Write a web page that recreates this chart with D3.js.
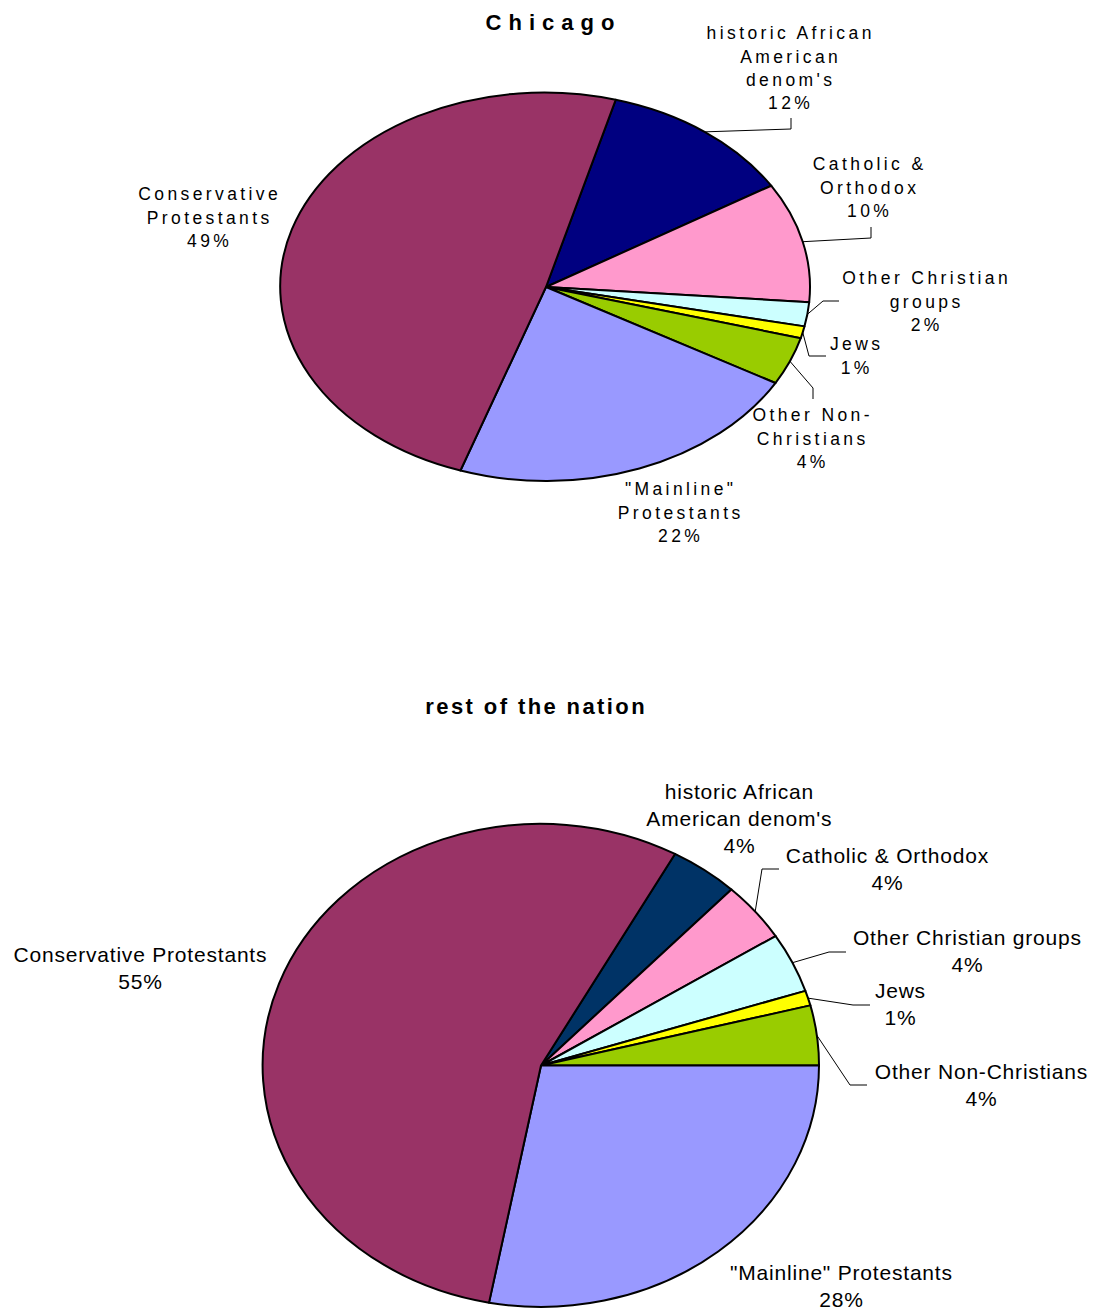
<!DOCTYPE html>
<html>
<head>
<meta charset="utf-8">
<script src="https://cdn.jsdelivr.net/npm/d3@7"></script>
<style>
    body { margin: 0; background: #fff; }
    text { font-family: Arial, "Liberation Sans", sans-serif; fill: #000; }
</style>
</head>
<body>
<svg id="chart" width="1099" height="1311"></svg>
<script>
// data, in slice order (clockwise from the first slice)
var categories = ['historic African American denom\'s', 'Catholic & Orthodox', 'Other Christian groups',
    'Jews', 'Other Non-Christians', '"Mainline" Protestants', 'Conservative Protestants'];
var chicagoValues = [12, 10, 2, 1, 4, 22, 49];
var nationValues = [4, 4, 4, 1, 4, 28, 55];
var chicagoColors = ['#000080', '#ff99cc', '#ccffff', '#ffff00', '#99cc00', '#9999ff', '#993366'];
var nationColors = ['#003366', '#ff99cc', '#ccffff', '#ffff00', '#99cc00', '#9999ff', '#993366'];

// label layout (wrapping and placement), one entry per category
var chicagoLabels = [
    {x: 789, y: 33, lines: ['historic African', 'American', 'denom\'s'], elbow: [791, 129], end: [791, 118]},
    {x: 868, y: 164, lines: ['Catholic &', 'Orthodox'], elbow: [871, 238], end: [871, 227]},
    {x: 925, y: 278, lines: ['Other Christian', 'groups'], elbow: [823, 301], end: [839, 301]},
    {x: 855, y: 344, lines: ['Jews'], elbow: [809, 356], end: [826, 356]},
    {x: 811, y: 415, lines: ['Other Non-', 'Christians'], elbow: [813, 388], end: [813, 399]},
    {x: 679, y: 489, lines: ['"Mainline"', 'Protestants']},
    {x: 208, y: 194, lines: ['Conservative', 'Protestants']}
];
var nationLabels = [
    {x: 739, y: 791, lines: ['historic African', 'American denom\'s']},
    {x: 887, y: 855, lines: ['Catholic & Orthodox'], elbow: [762, 869], end: [779, 869]},
    {x: 967, y: 937, lines: ['Other Christian groups'], elbow: [829, 952], end: [846, 952]},
    {x: 900, y: 990, lines: ['Jews'], elbow: [853, 1005], end: [870, 1005]},
    {x: 981, y: 1071, lines: ['Other Non-Christians'], elbow: [850, 1085], end: [867, 1085]},
    {x: 841, y: 1272, lines: ['"Mainline" Protestants']},
    {x: 140, y: 954, lines: ['Conservative Protestants']}
];

var svg = d3.select('#chart');

function drawPie(opts) {
    var g = svg.append('g').attr('transform', 'translate(' + opts.cx + ',' + opts.cy + ')');

    var pie = d3.pie().sort(null)
        .startAngle(opts.start * Math.PI / 180)
        .endAngle(opts.start * Math.PI / 180 + 2 * Math.PI);
    var arcs = pie(opts.values);

    // unit circle stretched into the ellipse
    var arc = d3.arc().innerRadius(0).outerRadius(1);
    g.append('g').attr('transform', 'scale(' + opts.rx + ',' + opts.ry + ')')
        .selectAll('path').data(arcs).enter().append('path')
        .attr('d', arc)
        .attr('fill', function(d, i) { return opts.colors[i]; })
        .attr('stroke', '#000')
        .attr('stroke-width', 2)
        .attr('stroke-linejoin', 'round')
        .attr('vector-effect', 'non-scaling-stroke');

    // leader lines, from the middle of each slice's edge
    arcs.forEach(function(d, i) {
        var lab = opts.labels[i];
        if (!lab.elbow) return;
        var a = (d.startAngle + d.endAngle) / 2;
        var p0 = [opts.cx + opts.rx * Math.sin(a), opts.cy - opts.ry * Math.cos(a)];
        svg.append('polyline')
            .attr('points', [p0, lab.elbow, lab.end].map(function(p) { return p.join(','); }).join(' '))
            .attr('fill', 'none')
            .attr('stroke', '#000')
            .attr('stroke-width', 1);
    });

    // labels
    opts.labels.forEach(function(lab, i) {
        var lines = lab.lines.concat([opts.values[i] + '%']);
        var t = svg.append('text')
            .attr('text-anchor', 'middle')
            .style('font-size', opts.fontSize + 'px')
            .style('letter-spacing', opts.spacing + 'px');
        lines.forEach(function(s, k) {
            t.append('tspan')
                .attr('x', lab.x + opts.spacing / 2)
                .attr('y', lab.y + k * opts.lineHeight + opts.fontSize * 0.36)
                .text(s);
        });
    });

    svg.append('text')
        .attr('x', opts.titleX + opts.titleSpacing / 2)
        .attr('y', opts.titleY + 8)
        .attr('text-anchor', 'middle')
        .style('font-size', '22px')
        .style('font-weight', 'bold')
        .style('letter-spacing', opts.titleSpacing + 'px')
        .text(opts.title);
}

drawPie({
    title: 'Chicago', titleX: 550, titleY: 22, titleSpacing: 7,
    cx: 546, cy: 287, rx: 264, ry: 194, start: 15.3,
    values: chicagoValues, colors: chicagoColors, labels: chicagoLabels,
    fontSize: 17.5, spacing: 3.4, lineHeight: 23.3
});

drawPie({
    title: 'rest of the nation', titleX: 535, titleY: 706, titleSpacing: 2.4,
    cx: 541, cy: 1065.5, rx: 278, ry: 241.5, start: 28.8,
    values: nationValues, colors: nationColors, labels: nationLabels,
    fontSize: 21, spacing: 0.8, lineHeight: 27.3
});
</script>
</body>
</html>
